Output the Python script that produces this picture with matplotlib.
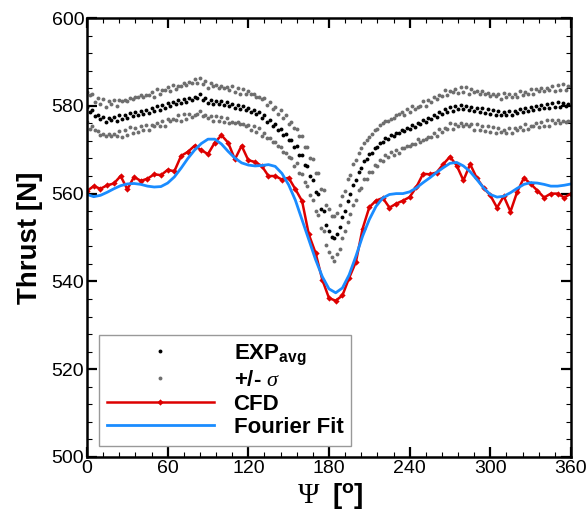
import numpy as np
import matplotlib
matplotlib.use("Agg")
import matplotlib.pyplot as plt
from matplotlib.ticker import MultipleLocator

plt.rcParams['font.family'] = ['Liberation Sans', 'DejaVu Sans']
plt.rcParams['mathtext.fontset'] = 'custom'
plt.rcParams['mathtext.rm'] = 'Liberation Sans:bold'
plt.rcParams['mathtext.bf'] = 'Liberation Sans:bold'
plt.rcParams['mathtext.it'] = 'Liberation Serif:italic'

# --- experiment: azimuthal average and standard deviation (every 2 deg) ---
exp_psi = np.arange(0, 360, 2)
exp_avg = [
    579.8, 578.6, 579.1, 577.6, 578.0, 576.9, 577.5, 576.4, 577.3, 576.8,
    577.4, 576.6, 577.8, 577.0, 577.9, 577.2, 578.4, 577.6, 578.5, 578.0,
    578.9, 578.2, 579.1, 578.4, 579.4, 578.8, 579.9, 579.1, 580.1, 579.5,
    580.6, 579.9, 580.9, 580.3, 581.3, 580.6, 581.6, 580.9, 581.8, 581.3,
    582.0, 581.7, 582.6, 581.3, 581.8, 580.7, 581.4, 580.5, 581.2, 580.3,
    581.0, 580.2, 580.8, 579.9, 580.5, 579.6, 580.2, 579.3, 579.9, 579.0,
    579.5, 578.7, 579.1, 578.1, 578.5, 577.3, 577.8, 576.4, 576.8, 575.5,
    575.8, 574.5, 574.8, 573.4, 573.6, 572.1, 572.3, 570.6, 570.8, 568.9,
    568.8, 566.6, 566.2, 563.9, 563.2, 560.4, 560.0, 556.6, 556.1, 552.9,
    551.5, 550.2, 549.8, 550.9, 552.3, 554.6, 556.0, 558.4, 559.8, 562.0,
    563.1, 565.0, 565.8, 567.4, 567.8, 569.0, 569.3, 570.5, 570.6, 571.6,
    571.7, 572.6, 572.4, 573.3, 573.1, 573.9, 573.7, 574.5, 574.2, 575.0,
    574.7, 575.6, 575.2, 576.1, 575.8, 576.7, 576.2, 577.2, 576.9, 577.9,
    577.4, 578.6, 578.1, 579.2, 578.6, 579.7, 578.9, 579.9, 579.2, 580.1,
    579.3, 580.0, 579.0, 579.8, 578.8, 579.6, 578.6, 579.4, 578.4, 579.2,
    578.2, 579.0, 578.0, 578.8, 577.8, 578.7, 577.9, 578.8, 578.0, 578.9,
    578.3, 579.2, 578.5, 579.5, 578.8, 579.7, 579.0, 580.0, 579.2, 580.2,
    579.4, 580.4, 579.6, 580.6, 579.7, 580.8, 579.8, 580.7, 579.9, 580.5,
]
exp_sigma = [
    3.4, 3.9, 3.6, 3.2, 3.8, 3.5, 4.0, 3.3, 3.7, 3.6,
    3.9, 3.4, 3.6, 4.1, 3.5, 3.8, 3.3, 3.9, 3.6, 4.0,
    3.5, 3.8, 3.4, 4.0, 3.7, 3.3, 3.9, 3.6, 3.5, 4.1,
    3.7, 3.4, 3.9, 3.6, 3.3, 4.0, 3.5, 3.8, 3.6, 3.9,
    4.0, 3.5, 3.8, 3.6, 3.9, 3.4, 3.7, 4.0, 3.5, 3.8,
    3.6, 3.9, 3.5, 3.8, 4.1, 3.6, 3.9, 3.5, 4.0, 3.7,
    3.8, 4.1, 3.7, 4.0, 3.6, 4.2, 3.9, 3.7, 4.1, 3.8,
    4.0, 3.7, 4.2, 3.9, 4.3, 3.8, 4.1, 4.4, 3.9, 4.2,
    4.4, 4.0, 4.5, 4.2, 4.6, 4.3, 4.8, 4.4, 4.7, 4.5,
    4.9, 4.6, 5.2, 4.7, 5.0, 4.8, 4.6, 4.9, 4.4, 4.7,
    4.5, 4.2, 4.6, 4.1, 4.4, 4.0, 4.3, 3.9, 4.2, 4.0,
    4.3, 3.9, 4.1, 3.8, 4.2, 3.9, 4.4, 4.0, 3.8, 4.2,
    3.9, 4.3, 4.0, 3.7, 4.1, 4.4, 3.8, 4.2, 3.9, 4.0,
    4.2, 3.8, 4.1, 4.3, 3.9, 3.7, 4.2, 4.0, 3.8, 4.1,
    3.9, 4.2, 3.7, 4.0, 4.3, 3.8, 4.1, 3.9, 4.2, 3.7,
    4.1, 3.8, 4.3, 3.9, 3.7, 4.2, 4.0, 3.8, 4.1, 3.9,
    3.8, 4.1, 3.9, 3.6, 4.0, 4.2, 3.7, 3.9, 4.1, 3.8,
    4.0, 3.7, 4.1, 3.9, 3.6, 4.0, 3.8, 4.2, 3.7, 3.9,
]

# --- CFD and its Fourier fit (every 5 deg) ---
cfd_psi = np.arange(0, 361, 5)
cfd_thrust = [
    560.6, 561.7, 561.1, 561.9, 562.3, 564.0, 561.0, 563.8, 562.9, 563.4,
    564.4, 564.2, 565.4, 565.1, 568.6, 569.5, 570.9, 569.9, 569.0, 571.6,
    573.3, 571.6, 567.8, 570.9, 567.6, 567.2, 566.3, 564.0, 564.0, 563.2,
    563.6, 561.0, 558.3, 550.7, 546.5, 540.4, 536.2, 535.6, 536.8, 540.8,
    544.4, 552.0, 556.9, 558.4, 559.0, 556.8, 557.7, 558.4, 559.2, 561.5,
    564.5, 564.4, 564.8, 566.7, 568.4, 566.4, 563.0, 566.7, 563.5, 561.3,
    559.6, 556.8, 559.4, 555.9, 560.4, 563.6, 562.2, 560.7, 559.1, 560.0,
    560.0, 559.1, 560.0,
]
fit_thrust = [
    559.8, 559.3, 559.6, 560.3, 561.1, 561.8, 562.2, 562.3, 562.1, 561.7,
    561.5, 561.6, 562.4, 563.8, 565.8, 568.0, 569.9, 571.4, 572.4, 572.4,
    571.3, 569.6, 568.1, 567.0, 566.5, 566.3, 566.4, 566.6, 566.2, 564.6,
    562.0, 558.5, 554.0, 549.5, 545.0, 541.1, 538.3, 537.4, 538.5, 541.5,
    545.7, 550.3, 554.1, 557.1, 559.0, 559.8, 560.0, 560.0, 560.4, 561.3,
    562.5, 563.6, 564.8, 565.9, 566.9, 567.1, 566.3, 565.0, 563.2, 561.3,
    559.8, 559.2, 559.4, 560.2, 561.2, 562.1, 562.5, 562.4, 562.1, 561.7,
    561.7, 561.9, 562.2,
]

avg = np.array(exp_avg)
sig = np.array(exp_sigma)

fig = plt.figure(figsize=(5.87, 5.13), dpi=100)
ax = fig.add_axes([0.1482, 0.1092, 0.8245, 0.8557])

ax.plot(exp_psi, avg + sig, 'o', color='#6e6e6e', ms=2.8, mew=0)
h_sig, = ax.plot(exp_psi, avg - sig, 'o', color='#6e6e6e', ms=2.8, mew=0,
                 label='+/- $\\sigma$')
h_avg, = ax.plot(exp_psi, avg, 'o', color='black', ms=2.8, mew=0,
                 label='EXP$_{\\mathbf{avg}}$')
h_cfd, = ax.plot(cfd_psi, cfd_thrust, '-', color='#dd0000', lw=1.8,
                 marker='D', ms=3.2, mew=0, label='CFD')
h_fit, = ax.plot(cfd_psi, fit_thrust, '-', color='#1a8cff', lw=2.0,
                 label='Fourier Fit')

ax.set_xlim(0, 360)
ax.set_ylim(500, 600)
ax.xaxis.set_major_locator(MultipleLocator(60))
ax.xaxis.set_minor_locator(MultipleLocator(12))
ax.yaxis.set_major_locator(MultipleLocator(20))
ax.yaxis.set_minor_locator(MultipleLocator(4))
ax.tick_params(which='both', direction='in', top=True, right=True,
               labelsize=14, pad=2)
ax.tick_params(which='major', length=7, width=1.6)
ax.tick_params(which='minor', length=3.5, width=0.8)
for sp in ax.spines.values():
    sp.set_linewidth(1.8)

ax.set_ylabel('Thrust [N]', fontsize=20, fontweight='bold', labelpad=6)
ax.text(0.457, -0.088, '\u03a8', transform=ax.transAxes, fontsize=21,
        family='Liberation Serif', ha='center', va='center')
ax.text(0.540, -0.088, '[$^{\\mathbf{o}}$]', transform=ax.transAxes,
        fontsize=20, fontweight='bold', ha='center', va='center')

leg = ax.legend(handles=[h_avg, h_sig, h_cfd, h_fit], loc='lower left',
                bbox_to_anchor=(0.025, 0.025), borderaxespad=0,
                fancybox=False, edgecolor='#999999', framealpha=1,
                prop={'weight': 'bold', 'size': 16}, handlelength=4.8,
                handletextpad=0.9, labelspacing=0.12, borderpad=0.35)
leg.get_frame().set_linewidth(1.0)

fig.savefig('out.png', dpi=100)
